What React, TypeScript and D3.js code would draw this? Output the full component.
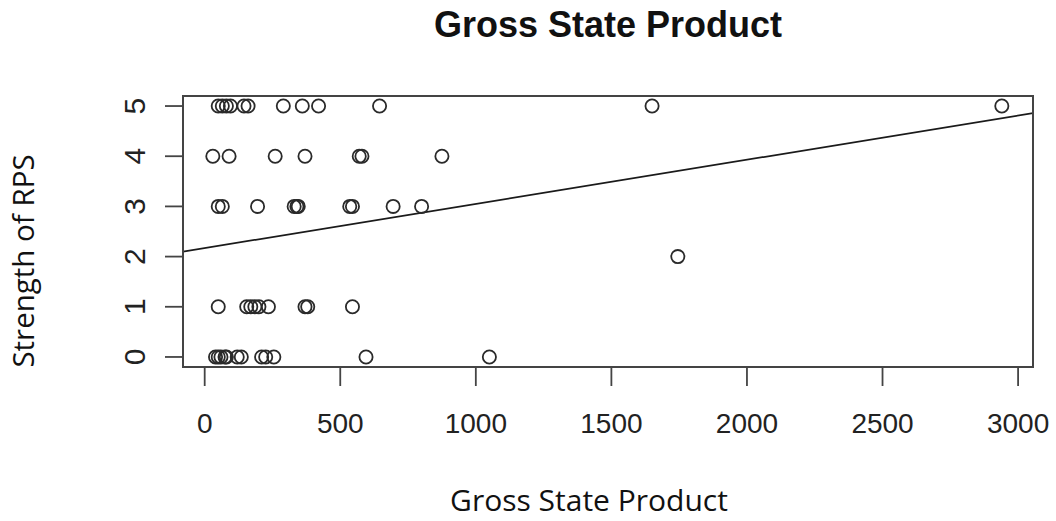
import * as d3 from "d3";

// Gross State Product (x) and Strength of RPS (y), one pair per state
const rps5 = [50, 65, 80, 95, 145, 160, 290, 360, 420, 645, 1650, 2940];
const rps4 = [30, 90, 260, 370, 570, 580, 875];
const rps3 = [50, 65, 195, 330, 340, 345, 535, 545, 695, 800];
const rps2 = [1745];
const rps1 = [50, 155, 170, 185, 200, 235, 370, 380, 545];
const rps0 = [40, 50, 60, 75, 80, 120, 135, 210, 225, 255, 595, 1050];

const groups: [number, number[]][] = [
  [5, rps5], [4, rps4], [3, rps3], [2, rps2], [1, rps1], [0, rps0],
];

const xTicks = [0, 500, 1000, 1500, 2000, 2500, 3000];
const yTicks = [0, 1, 2, 3, 4, 5];

// fitted line
const fitIntercept = 2.17;
const fitSlope = 0.00088;

const W = 1056;
const H = 521;
const box = { left: 183, right: 1033, top: 96, bottom: 367 };

export default function App() {
  const x = d3.scaleLinear().domain([-80, 3055]).range([box.left, box.right]);
  const y = d3.scaleLinear().domain([-0.2, 5.2]).range([box.bottom, box.top]);

  const points = groups.flatMap(([r, xs]) => xs.map((g) => ({ g, r })));
  const [x0, x1] = x.domain();
  const fit = d3.line<number>()
    .x((d) => x(d))
    .y((d) => y(fitIntercept + fitSlope * d));

  const ink = "#222";
  const tickFont = "'Liberation Sans', Arial, sans-serif";

  return (
    <svg width={W} height={H} style={{ position: "absolute", left: 0, top: 0, background: "#fff" }}>
      <text x={(box.left + box.right) / 2} y={37} textAnchor="middle"
        fontFamily={tickFont} fontWeight="bold" fontSize={36} fill="#111">
        Gross State Product
      </text>

      <defs>
        <clipPath id="plotclip">
          <rect x={box.left} y={box.top} width={box.right - box.left} height={box.bottom - box.top} />
        </clipPath>
      </defs>

      <path d={fit([x0, x1]) ?? ""} fill="none" stroke="#1a1a1a" strokeWidth={1.7} clipPath="url(#plotclip)" />

      {points.map((p, i) => (
        <circle key={i} cx={x(p.g)} cy={y(p.r)} r={6.6} fill="none" stroke="#2a2a2a" strokeWidth={1.8} />
      ))}

      <rect x={box.left} y={box.top} width={box.right - box.left} height={box.bottom - box.top}
        fill="none" stroke="#444" strokeWidth={2} />

      {/* x axis */}
      <line x1={x(xTicks[0])} x2={x(xTicks[xTicks.length - 1])} y1={box.bottom} y2={box.bottom} stroke="#444" strokeWidth={2} />
      {xTicks.map((t) => (
        <g key={t} transform={`translate(${x(t)},${box.bottom})`}>
          <line y1={0} y2={19} stroke="#444" strokeWidth={1.8} />
          <text y={66} textAnchor="middle" fontFamily={tickFont} fontSize={28} fill={ink}>{t}</text>
        </g>
      ))}

      {/* y axis */}
      <line x1={box.left} x2={box.left} y1={y(yTicks[0])} y2={y(yTicks[yTicks.length - 1])} stroke="#444" strokeWidth={2} />
      {yTicks.map((t) => (
        <g key={t} transform={`translate(${box.left},${y(t)})`}>
          <line x1={0} x2={-18} stroke="#444" strokeWidth={1.8} />
          <text transform="translate(-38,0) rotate(-90)" textAnchor="middle"
            fontFamily={tickFont} fontSize={30} fill={ink}>{t}</text>
        </g>
      ))}

      <text transform={`translate(34,261) rotate(-90)`} textAnchor="middle"
        fontFamily="'Open Sans', sans-serif" fontSize={29.5} fill="#111">
        Strength of RPS
      </text>
      <text x={589} y={511} textAnchor="middle"
        fontFamily="'Open Sans', sans-serif" fontSize={30} fill="#111">
        Gross State Product
      </text>
    </svg>
  );
}
